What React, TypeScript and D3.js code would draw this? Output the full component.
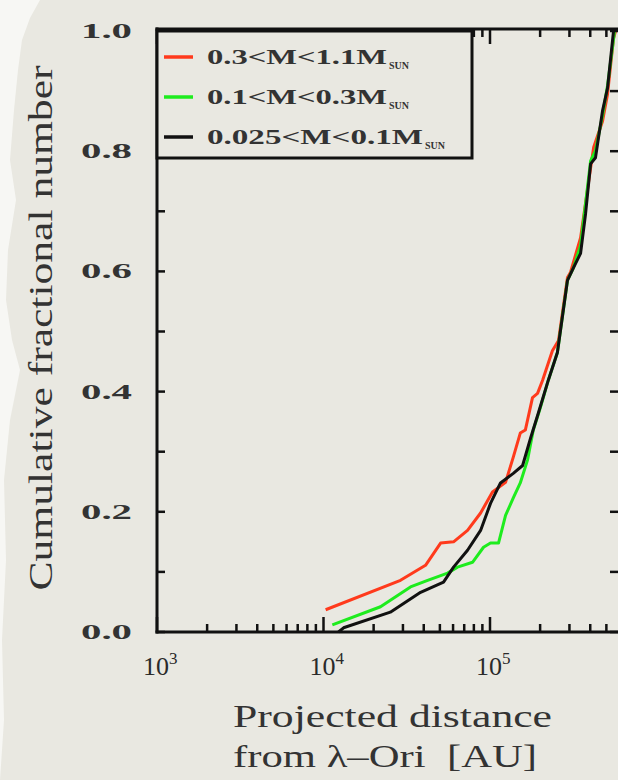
import React from "react";
import * as d3 from "d3";

// Series data: projected distance (AU) and cumulative fraction
const redDist = [1.03e4, 2.9e4, 4.1e4, 5.05e4, 6.04e4, 7.33e4, 8.78e4, 1.035e5, 1.24e5, 1.38e5, 1.52e5, 1.63e5, 1.8e5, 1.93e5, 2.07e5, 2.37e5, 2.58e5, 2.92e5, 3.04e5, 3.5e5, 4.02e5, 4.19e5, 4.74e5, 5.08e5, 5.52e5, 5.68e5];
const redFrac = [0.037, 0.086, 0.111, 0.148, 0.15, 0.169, 0.198, 0.233, 0.249, 0.291, 0.331, 0.336, 0.39, 0.397, 0.419, 0.468, 0.485, 0.59, 0.598, 0.656, 0.772, 0.806, 0.85, 0.895, 0.988, 1.0];

const greenDist = [1.13e4, 2.2e4, 3.33e4, 4.22e4, 5.56e4, 6.38e4, 7.85e4, 9.14e4, 1.007e5, 1.125e5, 1.24e5, 1.38e5, 1.52e5, 1.68e5, 1.82e5, 2.01e5, 2.24e5, 2.54e5, 2.92e5, 3.17e5, 3.5e5, 4.02e5, 4.3e5, 4.74e5, 5.08e5, 5.6e5];
const greenFrac = [0.012, 0.042, 0.075, 0.086, 0.098, 0.108, 0.116, 0.141, 0.148, 0.148, 0.194, 0.223, 0.248, 0.286, 0.336, 0.374, 0.419, 0.465, 0.585, 0.606, 0.643, 0.784, 0.801, 0.859, 0.909, 1.0];

const blackDist = [1.23e4, 1.32e4, 2.52e4, 3.83e4, 5.26e4, 6.04e4, 7.33e4, 8.78e4, 1.007e5, 1.156e5, 1.38e5, 1.57e5, 1.75e5, 1.95e5, 2.24e5, 2.54e5, 2.92e5, 3.17e5, 3.5e5, 3.75e5, 4.02e5, 4.3e5, 4.74e5, 5.08e5, 5.52e5];
const blackFrac = [0.0, 0.007, 0.033, 0.066, 0.083, 0.108, 0.136, 0.169, 0.214, 0.248, 0.264, 0.277, 0.322, 0.364, 0.419, 0.465, 0.585, 0.606, 0.63, 0.696, 0.779, 0.789, 0.867, 0.905, 1.0];

const seriesLabels = ["0.3<M<1.1M", "0.1<M<0.3M", "0.025<M<0.1M"];
const seriesColors = ["#ff3a1c", "#1eec1e", "#111111"];
const yTickLabels = ["0.0", "0.2", "0.4", "0.6", "0.8", "1.0"];
const yTickValues = [0, 0.2, 0.4, 0.6, 0.8, 1.0];
const xTickExps = ["3", "4", "5"];
const xTickValues = [1e3, 1e4, 1e5];

const W = 618;
const H = 780;
const LEFT = 157;
const BOTTOM = 632;
const TOP = 29;
const RIGHT = 619;
const FONT = "'Liberation Serif', 'DejaVu Serif', serif";

export default function App() {
  const x = d3.scaleLog().domain([1e3, 1e6]).range([LEFT, LEFT + 3 * 166.5]);
  const y = d3.scaleLinear().domain([0, 1]).range([BOTTOM, 31]);

  const line = d3
    .line<[number, number]>()
    .x((d) => x(d[0]))
    .y((d) => y(d[1]));

  const series = [
    { dist: redDist, frac: redFrac, color: seriesColors[0] },
    { dist: greenDist, frac: greenFrac, color: seriesColors[1] },
    { dist: blackDist, frac: blackFrac, color: seriesColors[2] },
  ];

  const logTicks: { v: number; major: boolean }[] = [];
  for (let e = 3; e <= 5; e++) {
    for (let m = 1; m <= 9; m++) {
      logTicks.push({ v: m * Math.pow(10, e), major: m === 1 });
    }
  }
  const yMinor = d3.range(0, 11).map((i) => i / 10);

  // torn paper left edge (decorative)
  const tornPts: [number, number][] = [
    [40, 0], [30, 18], [22, 40], [18, 70], [14, 110], [10, 160], [16, 200], [8, 250],
    [6, 300], [12, 340], [20, 370], [10, 420], [4, 480], [6, 560], [2, 640], [4, 720], [0, 780],
  ];
  const tornPath =
    "M" + tornPts.map((p) => p.join(",")).join("L") + `L${W},${H}L${W},0Z`;

  return (
    <svg
      width={W}
      height={H}
      style={{ position: "absolute", left: 0, top: 0, background: "#f7f7f4" }}
      fontFamily={FONT}
    >
      <path d={tornPath} fill="#e9e8e1" />

      {series.map((s, i) => (
        <path
          key={i}
          d={line(s.dist.map((d, j) => [d, s.frac[j]]) as [number, number][]) || ""}
          fill="none"
          stroke={s.color}
          strokeWidth={3}
          strokeLinejoin="round"
        />
      ))}

      {/* frame */}
      <line x1={LEFT} x2={LEFT} y1={TOP - 1.5} y2={BOTTOM + 1.5} stroke="#111" strokeWidth={3} />
      <line x1={LEFT - 1.5} x2={W} y1={BOTTOM} y2={BOTTOM} stroke="#111" strokeWidth={3} />
      <line x1={LEFT - 1.5} x2={W} y1={TOP} y2={TOP} stroke="#111" strokeWidth={3} />

      {logTicks.map((t, i) => {
        const px = x(t.v);
        const len = t.major ? 15 : 8;
        return (
          <g key={i}>
            <line x1={px} x2={px} y1={BOTTOM} y2={BOTTOM - len} stroke="#111" strokeWidth={2.5} />
            <line x1={px} x2={px} y1={TOP} y2={TOP + len} stroke="#111" strokeWidth={2.5} />
          </g>
        );
      })}

      {yMinor.map((v, i) => (
        <g key={i}>
          <line x1={LEFT} x2={LEFT + 8} y1={y(v)} y2={y(v)} stroke="#111" strokeWidth={2.5} />
          <line x1={RIGHT} x2={RIGHT - 9} y1={y(v)} y2={y(v)} stroke="#111" strokeWidth={2.5} />
        </g>
      ))}

      {yTickValues.map((v, i) => (
        <text
          key={i}
          x={81}
          y={y(v) + 7}
          fontSize={22}
          fontWeight="bold"
          fill="#333"
          textLength={51}
          lengthAdjust="spacingAndGlyphs"
        >
          {yTickLabels[i]}
        </text>
      ))}

      {xTickValues.map((v, i) => (
        <text key={i} x={x(v) - 14} y={675} fontSize={26} fill="#2a2a2a">
          10
          <tspan dy={-11} fontSize={17}>
            {xTickExps[i]}
          </tspan>
        </text>
      ))}

      <text
        transform="translate(52,328) rotate(-90)"
        textAnchor="middle"
        fontSize={33}
        fill="#333"
        textLength={525}
        lengthAdjust="spacingAndGlyphs"
      >
        Cumulative fractional number
      </text>
      <text x={233} y={727} fontSize={32} fill="#333" textLength={319} lengthAdjust="spacingAndGlyphs">
        Projected distance
      </text>
      <text
        x={233}
        y={767}
        fontSize={32}
        fill="#333"
        textLength={304}
        lengthAdjust="spacingAndGlyphs"
        style={{ whiteSpace: "pre" }}
      >
        {"from λ–Ori  [AU]"}
      </text>

      <rect x={LEFT} y={31} width={315} height={127} fill="#e9e8e1" stroke="#111" strokeWidth={3} />
      {seriesLabels.map((lab, i) => {
        const ly = 57 + i * 40;
        return (
          <g key={i}>
            <line x1={164} x2={193} y1={ly} y2={ly} stroke={seriesColors[i]} strokeWidth={3.5} />
            <text
              x={207}
              y={ly + 7}
              fontSize={22}
              fontWeight="bold"
              fill="#333"
              textLength={lab.length * 18}
              lengthAdjust="spacingAndGlyphs"
            >
              {lab}
            </text>
            <text x={209 + lab.length * 18} y={ly + 12} fontSize={10} fontWeight="bold" fill="#333">
              SUN
            </text>
          </g>
        );
      })}
    </svg>
  );
}
